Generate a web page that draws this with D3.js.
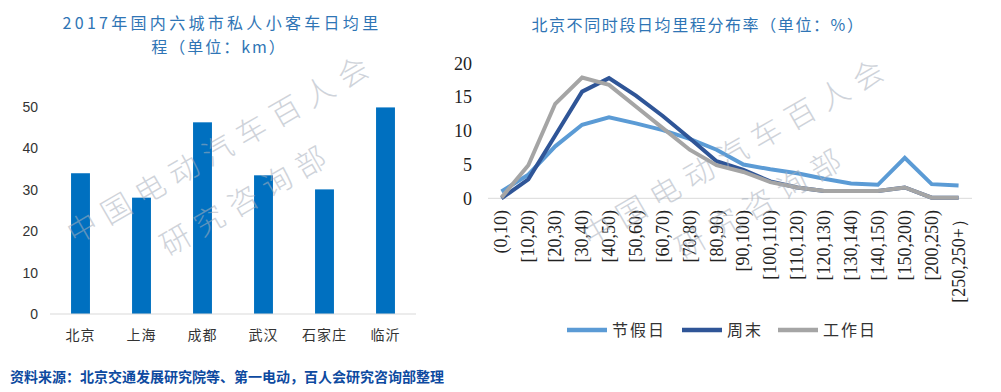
<!DOCTYPE html>
<html>
<head>
<meta charset="utf-8">
<script src="https://cdn.jsdelivr.net/npm/d3@7"></script>
<style>
  html, body { margin: 0; padding: 0; background: #fff; }
  svg { display: block; }
</style>
</head>
<body>
<div id="chart"></div>
<script>
// Left chart: average daily mileage by city (km)
const cities = ["北京", "上海", "成都", "武汉", "石家庄", "临沂"];
const cityKm = [34.0, 28.1, 46.3, 33.5, 30.1, 49.9];
const kmTicks = [0, 10, 20, 30, 40, 50];

// Right chart: Beijing mileage distribution (%)
const ranges = ["(0,10)", "[10,20)", "[20,30)", "[30,40)", "[40,50)", "[50,60)", "[60,70)",
  "[70,80)", "[80,90)", "[90,100)", "[100,110)", "[110,120)", "[120,130)", "[130,140)",
  "[140,150)", "[150,200)", "[200,250)", "[250,250+）"];
const holiday = [1.0, 3.5, 7.7, 10.9, 12.0, 11.1, 10.1, 8.8, 7.2, 5.0, 4.3, 3.7, 2.9, 2.2, 2.0, 6.0, 2.1, 1.9];
const weekend = [0.0, 2.8, 9.3, 15.8, 17.8, 15.2, 12.2, 8.9, 5.5, 4.2, 2.5, 1.6, 1.1, 1.1, 1.1, 1.6, 0.1, 0.1];
const workday = [0.1, 4.9, 14.0, 17.9, 16.8, 13.6, 10.4, 7.2, 4.9, 3.9, 2.4, 1.6, 1.1, 1.1, 1.1, 1.6, 0.1, 0.1];
const pctTicks = [0, 5, 10, 15, 20];

const series = [
  { name: "节假日", values: holiday, color: "#5b9bd5" },
  { name: "周末", values: weekend, color: "#2f5597" },
  { name: "工作日", values: workday, color: "#a5a5a5" }
];

const W = 1001, H = 392;
const cjk = "'Noto Sans CJK SC', sans-serif";
const titleColor = "#2f75b5";

const svg = d3.select("#chart").append("svg")
  .attr("width", W).attr("height", H);

// ---------- left bar chart ----------
const x1 = d3.scaleBand().domain(cities).range([50, 416])
  .paddingInner(0.69).paddingOuter(0.345);
const y1 = d3.scaleLinear().domain([0, 50]).range([314, 107]);

const left = svg.append("g");

left.append("text")
  .attr("x", 222).attr("y", 29)
  .attr("text-anchor", "middle")
  .style("font-family", cjk).style("font-size", "16px")
  .style("letter-spacing", "3.3px")
  .attr("fill", titleColor)
  .text("2017年国内六城市私人小客车日均里");
left.append("text")
  .attr("x", 219).attr("y", 53)
  .attr("text-anchor", "middle")
  .style("font-family", cjk).style("font-size", "16px")
  .style("letter-spacing", "2px")
  .attr("fill", titleColor)
  .text("程（单位：km）");

left.selectAll("rect.bar")
  .data(cities)
  .join("rect")
  .attr("class", "bar")
  .attr("x", d => x1(d))
  .attr("width", x1.bandwidth())
  .attr("y", (d, i) => y1(cityKm[i]))
  .attr("height", (d, i) => y1(0) - y1(cityKm[i]))
  .attr("fill", "#0070c0");

left.append("line")
  .attr("x1", 50).attr("x2", 416)
  .attr("y1", y1(0)).attr("y2", y1(0))
  .attr("stroke", "#d9d9d9").attr("stroke-width", 1);

left.selectAll("text.ytick")
  .data(kmTicks)
  .join("text")
  .attr("class", "ytick")
  .attr("x", 38).attr("y", d => y1(d))
  .attr("dy", "0.35em")
  .attr("text-anchor", "end")
  .style("font-family", "'Liberation Sans', Arial, sans-serif")
  .style("font-size", "14px")
  .attr("fill", "#333")
  .text(d => d);

left.selectAll("text.xtick")
  .data(cities)
  .join("text")
  .attr("class", "xtick")
  .attr("x", d => x1(d) + x1.bandwidth() / 2)
  .attr("y", 340)
  .attr("text-anchor", "middle")
  .style("font-family", cjk).style("font-size", "14px")
  .style("letter-spacing", "1px")
  .attr("fill", "#333")
  .text(d => d);

// ---------- right line chart ----------
const x2 = d3.scaleBand().domain(ranges).range([488, 972]);
const y2 = d3.scaleLinear().domain([0, 20]).range([198.3, 63.3]);
const serif = "'Liberation Serif', 'Times New Roman', serif";

const right = svg.append("g");

right.append("text")
  .attr("x", 698).attr("y", 31)
  .attr("text-anchor", "middle")
  .style("font-family", cjk).style("font-size", "16px")
  .style("letter-spacing", "1.6px")
  .attr("fill", titleColor)
  .text("北京不同时段日均里程分布率（单位：%）");

right.append("line")
  .attr("x1", 488).attr("x2", 972)
  .attr("y1", y2(0)).attr("y2", y2(0))
  .attr("stroke", "#d9d9d9").attr("stroke-width", 1);

right.selectAll("text.ytick")
  .data(pctTicks)
  .join("text")
  .attr("class", "ytick")
  .attr("x", 472).attr("y", d => y2(d))
  .attr("dy", "0.35em")
  .attr("text-anchor", "end")
  .style("font-family", serif).style("font-size", "18px")
  .attr("fill", "#222")
  .text(d => d);

right.selectAll("text.xtick")
  .data(ranges)
  .join("text")
  .attr("class", "xtick")
  .attr("transform", d => `translate(${x2(d) + x2.bandwidth() / 2 + 6},210) rotate(-90)`)
  .attr("text-anchor", "end")
  .style("font-family", serif).style("font-size", "18px")
  .attr("fill", "#222")
  .text(d => d);

const line = d3.line()
  .x((v, i) => x2(ranges[i]) + x2.bandwidth() / 2)
  .y(v => y2(v));

right.selectAll("path.series")
  .data(series)
  .join("path")
  .attr("class", "series")
  .attr("d", d => line(d.values))
  .attr("fill", "none")
  .attr("stroke", d => d.color)
  .attr("stroke-width", 4)
  .attr("stroke-linejoin", "miter");

// legend
const legendX = [567, 682, 778];
const legend = right.selectAll("g.legend")
  .data(series)
  .join("g")
  .attr("class", "legend")
  .attr("transform", (d, i) => `translate(${legendX[i]},330)`);
legend.append("line")
  .attr("x1", 0).attr("x2", 40)
  .attr("stroke", d => d.color).attr("stroke-width", 4.5);
legend.append("text")
  .attr("x", 45).attr("dy", "0.35em")
  .style("font-family", cjk).style("font-size", "16px")
  .style("letter-spacing", "2px")
  .attr("fill", "#333")
  .text(d => d.name);

// ---------- watermarks ----------
const marks = [
  { x: 75, y: 245, text: "中国电动汽车百人会" },
  { x: 168, y: 257, text: "研究咨询部" },
  { x: 590, y: 248, text: "中国电动汽车百人会" },
  { x: 683, y: 260, text: "研究咨询部" }
];
svg.selectAll("text.mark")
  .data(marks)
  .join("text")
  .attr("class", "mark")
  .attr("transform", d => `translate(${d.x},${d.y}) rotate(-30)`)
  .style("font-family", cjk).style("font-size", "30px")
  .style("font-weight", 300)
  .style("letter-spacing", "9px")
  .attr("fill", "#a8b0bc")
  .attr("opacity", 0.55)
  .text(d => d.text);

// ---------- source note ----------
svg.append("text")
  .attr("x", 10).attr("y", 382)
  .style("font-family", cjk).style("font-size", "14px")
  .style("font-weight", "bold")
  .attr("fill", "#0d4aa0")
  .text("资料来源：北京交通发展研究院等、第一电动，百人会研究咨询部整理");
</script>
</body>
</html>
